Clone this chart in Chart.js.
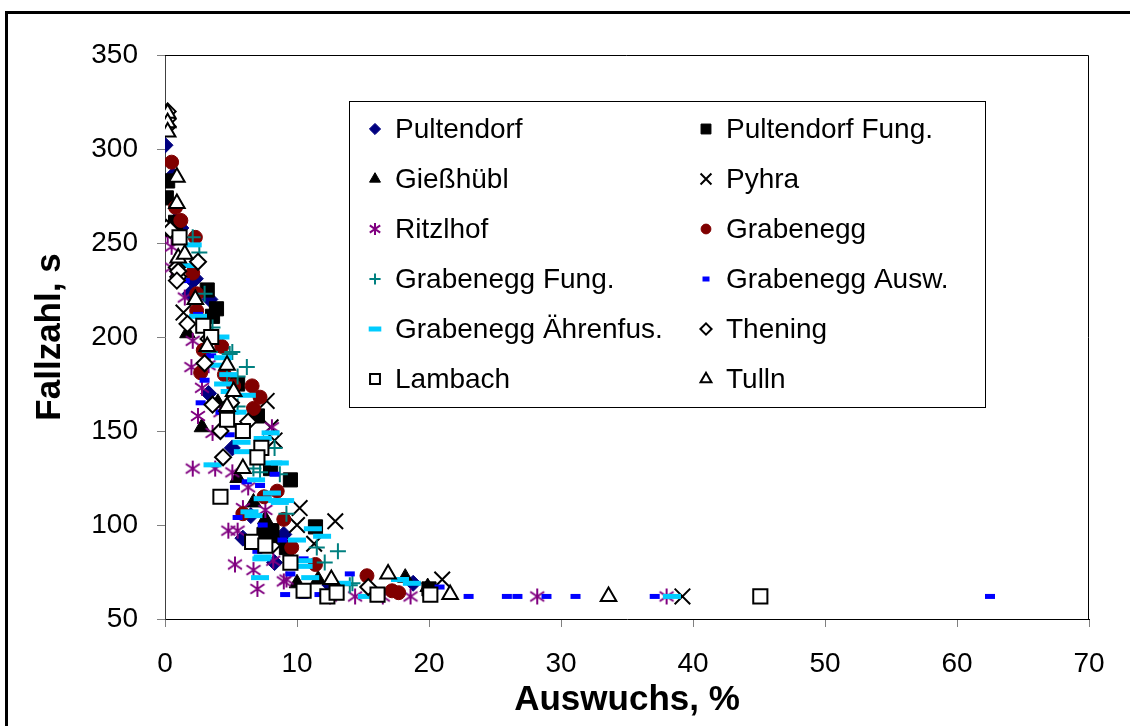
<!DOCTYPE html>
<html>
<head>
<meta charset="utf-8">
<script src="https://cdn.jsdelivr.net/npm/chart.js@4"></script>
<style>
  body { margin: 0; background: #fff; overflow: hidden; }
  #wrap { position: relative; width: 1130px; height: 726px; overflow: hidden; }
  #frame { position: absolute; left: 5px; top: 11px; width: 1200px; height: 800px;
           border: 3px solid #000; pointer-events: none; }
  canvas { position: absolute; left: 0; top: 0; }
</style>
</head>
<body>
<div id="wrap">
  <canvas id="fz" width="1130" height="726"></canvas>
  <div id="frame"></div>
</div>
<script>
// values: [Auswuchs %, Fallzahl s]
var pultendorf = [[0,302],[0.6,286],[0.8,262],[1.2,258],[1.9,223],[2.1,230],[2.3,231],[3.4,220],[3.3,170],[4.5,160],[5.1,141],[5.9,93],[6.5,105],[8.3,80],[9,95],[18.8,69],[12.5,68]];
var pultendorfFung = [[0.1,274],[0.2,283],[0.8,261],[3.2,225],[3.9,215],[3.6,211],[5.5,175],[7,158],[8,130],[9.5,124],[8.1,97],[9.2,88],[11.4,99],[7.5,95],[20,66]];
var giesshuebl = [[1.7,202],[2.8,152],[4,165],[6.7,112],[7.6,103],[7.6,97],[8.3,93],[10,69],[11.6,71],[18.2,72],[19.9,67],[5.5,125]];
var pyhra = [[1.4,213],[7.7,166],[8,152],[8.3,145],[10.2,109],[10,100],[12.9,102],[8.7,89],[11.3,90],[21,71],[39.2,62]];
var ritzlhof = [[0.2,254],[0.5,248],[0.5,237],[1.5,221],[2.1,198],[2,184],[2.8,173],[2.5,158],[3.6,149],[2.1,130],[3.8,130],[5.1,128],[6.3,120],[5.9,109],[4.8,97],[5.5,97],[5.3,79],[6.7,76],[7,66],[8.2,81],[9,70],[8.1,152],[7.6,108],[9.2,71],[12.5,62],[14.4,62],[16.5,62],[18.6,62],[28.2,62],[38,62],[3.3,185],[4.2,160]];
var grabenegg = [[0.5,293],[0.8,269],[1.2,262],[2.3,253],[2.1,234],[2.4,223],[2.4,214],[4.3,195],[2.9,193],[2.7,181],[5.2,174],[6.6,174],[7.2,168],[6.7,162],[8.5,118],[9,103],[9.6,88],[5.9,106],[11.4,79],[15.3,73],[17.2,65],[17.7,64],[4.5,180],[7.5,115]];
var grabeneggFung = [[2.1,253],[3,223],[3.6,205],[3.4,192],[5.1,192],[4.9,191],[6.2,184],[5.5,179],[5.5,163],[8.3,141],[6.7,130],[7.2,128],[8.7,127],[9.2,106],[11.5,88],[13.1,86],[12.1,80],[14.2,69],[14,68],[2.6,245],[4.7,180]];
var grabeneggAusw = [[0.8,255],[1.5,230],[2.5,212],[3,177],[2.7,165],[4.9,148],[5.3,120],[6.2,123],[8.3,127],[5.5,104],[7.4,100],[7.2,121],[7,86],[8.9,92],[9.5,74],[9.1,63],[10.5,82],[11.7,63],[10.5,62],[14,74],[20.8,67],[23,62],[25.9,62],[26.7,62],[28.9,62],[31.1,62],[37.1,62],[62.5,62],[13,63],[16,62],[3.5,190],[4.2,160]];
var grabeneggAehren = [[2.1,249],[1.7,238],[2.5,211],[4.2,200],[4.4,189],[3.9,185],[4.8,180],[4.4,175],[4.9,171],[6.2,169],[8,149],[7.4,146],[5.8,144],[5.9,139],[8.2,133],[8.7,133],[3.6,132],[7.4,114],[8.5,113],[6.7,105],[7.4,83],[7.2,72],[10.5,78],[11,72],[10,92],[8.1,117],[8.7,112],[6.4,107],[11.2,98],[11.9,94],[7.3,82],[10.5,81],[13.4,69],[15.3,62],[17.8,71],[18.7,69],[38.4,62],[9.1,113],[6.9,124],[5.5,160]];
var thening = [[0.2,320],[0.2,316],[0.2,312],[0.1,258],[0.4,257],[0.9,237],[1,232],[1,235],[0.9,230],[1.7,207],[3.3,199],[3,186],[3.6,164],[6.3,155],[4.2,150],[4.4,136],[15.4,67],[2.5,240],[5,165]];
var lambach = [[1.1,253],[2.9,206],[4.7,156],[5.9,150],[7.3,141],[7,136],[4.2,115],[6.6,91],[7.6,89],[9.5,80],[10.5,65],[12.3,62],[13,64],[16.1,63],[20.1,63],[45.1,62],[3.5,200]];
var tulln = [[0.2,319],[0.2,314],[0.2,309],[0.9,285],[0.9,271],[1,242],[1.5,244],[2.3,220],[4.7,185],[5.2,171],[4.7,163],[5.9,130],[12.6,71],[16.9,74],[21.6,63],[33.6,62],[3.2,195]];

var seriesNames = ['Pultendorf', 'Pultendorf Fung.', 'Gießhübl', 'Pyhra', 'Ritzlhof', 'Grabenegg',
    'Grabenegg Fung.', 'Grabenegg Ausw.', 'Grabenegg Ährenfus.', 'Thening', 'Lambach', 'Tulln'];
var seriesData = [pultendorf, pultendorfFung, giesshuebl, pyhra, ritzlhof, grabenegg,
    grabeneggFung, grabeneggAusw, grabeneggAehren, thening, lambach, tulln];
var xTicks = [0, 10, 20, 30, 40, 50, 60, 70];
var yTicks = [50, 100, 150, 200, 250, 300, 350];

var FONT = "Arial, 'Liberation Sans', sans-serif";

// asterisk marker (vertical bar + X) like the one Excel uses
function asterisk(size, color) {
    var c = document.createElement('canvas');
    c.width = size; c.height = size;
    var g = c.getContext('2d');
    g.strokeStyle = color;
    g.lineWidth = 2;
    var m = size / 2, r = size / 2 - 1;
    g.beginPath();
    g.moveTo(m, m - r); g.lineTo(m, m + r);
    g.moveTo(m - r * 0.87, m - r * 0.6); g.lineTo(m + r * 0.87, m + r * 0.6);
    g.moveTo(m - r * 0.87, m + r * 0.6); g.lineTo(m + r * 0.87, m - r * 0.6);
    g.stroke();
    return c;
}

var styles = [
    { pointStyle: 'rectRot', radius: 8, bg: '#000080', border: '#000080', bw: 1 },
    { pointStyle: 'rect', radius: 10, bg: '#000000', border: '#000000', bw: 1 },
    { pointStyle: 'triangle', radius: 9, bg: '#000000', border: '#000000', bw: 1 },
    { pointStyle: 'crossRot', radius: 11, bg: '#000000', border: '#000000', bw: 2 },
    { pointStyle: asterisk(18, '#800080'), legendStyle: asterisk(14, '#800080'), radius: 9, bg: '#800080', border: '#800080', bw: 2 },
    { pointStyle: 'circle', radius: 7, bg: '#800000', border: '#800000', bw: 1 },
    { pointStyle: 'cross', radius: 8, bg: '#008080', border: '#008080', bw: 2 },
    { pointStyle: 'line', radius: 5, bg: '#0000FF', border: '#0000FF', bw: 5 },
    { pointStyle: 'line', radius: 9, bg: '#00CCFF', border: '#00CCFF', bw: 5 },
    { pointStyle: 'rectRot', radius: 8, bg: '#FFFFFF', border: '#000000', bw: 2 },
    { pointStyle: 'rect', radius: 10, bg: '#FFFFFF', border: '#000000', bw: 2 },
    { pointStyle: 'triangle', radius: 9, bg: '#FFFFFF', border: '#000000', bw: 2 }
];

var datasets = seriesNames.map(function (name, i) {
    var s = styles[i];
    return {
        label: name,
        data: seriesData[i].map(function (p) { return { x: p[0], y: p[1] }; }),
        pointStyle: s.pointStyle,
        pointRadius: s.radius,
        pointBackgroundColor: s.bg,
        pointBorderColor: s.border,
        pointBorderWidth: s.bw,
        showLine: false,
        order: seriesNames.length - i  // later series on top, like Excel
    };
});

// plot frame (top and right edges)
var frame = {
    id: 'frame',
    afterDatasetsDraw: function (chart) {
        var a = chart.chartArea, ctx = chart.ctx;
        ctx.save();
        ctx.strokeStyle = '#000';
        ctx.lineWidth = 1;
        ctx.beginPath();
        ctx.moveTo(a.left, a.top + 0.5);
        ctx.lineTo(a.right - 0.5, a.top + 0.5);
        ctx.lineTo(a.right - 0.5, a.bottom);
        ctx.stroke();
        ctx.restore();
    }
};

// boxed two-column legend inside the plot
var boxLegend = {
    id: 'boxLegend',
    afterDraw: function (chart) {
        var ctx = chart.ctx;
        var bx = 349, by = 101, bw = 636, bh = 306;
        ctx.save();
        ctx.fillStyle = '#fff';
        ctx.fillRect(bx, by, bw, bh);
        ctx.strokeStyle = '#000';
        ctx.lineWidth = 1;
        ctx.strokeRect(bx + 0.5, by + 0.5, bw, bh);
        ctx.font = '28px ' + FONT;
        ctx.textBaseline = 'middle';
        for (var i = 0; i < seriesNames.length; i++) {
            var col = i % 2, row = Math.floor(i / 2);
            var mx = col ? 706 : 375;
            var my = 129 + row * 50;
            var s = styles[i];
            ctx.fillStyle = s.bg;
            ctx.strokeStyle = s.border;
            ctx.lineWidth = s.bw;
            Chart.helpers.drawPoint(ctx, {
                pointStyle: s.legendStyle || s.pointStyle,
                radius: s.radius * 0.7,
                rotation: 0,
                borderWidth: s.bw
            }, mx, my);
            ctx.fillStyle = '#000';
            ctx.fillText(seriesNames[i], mx + 20, my + 1);
        }
        ctx.restore();
    }
};

new Chart(document.getElementById('fz'), {
    type: 'scatter',
    data: { datasets: datasets },
    options: {
        responsive: false,
        animation: false,
        devicePixelRatio: 1,
        layout: { padding: { top: 55, right: 41, left: 0, bottom: 0 } },
        plugins: {
            legend: { display: false },
            tooltip: { enabled: false }
        },
        scales: {
            x: {
                type: 'linear',
                min: 0, max: 70,
                afterBuildTicks: function (s) { s.ticks = xTicks.map(function (v) { return { value: v }; }); },
                afterFit: function (s) { s.height = 107; },
                ticks: { font: { size: 28, family: FONT }, color: '#000', padding: 20, maxRotation: 0 },
                grid: { drawOnChartArea: false, drawTicks: true, tickLength: 8, color: '#808080' },
                border: { display: true, color: '#000', width: 1 },
                title: { display: true, text: 'Auswuchs, %', color: '#000',
                         font: { size: 35, weight: 'bold', family: FONT }, padding: { top: 0, bottom: 5 } }
            },
            y: {
                type: 'linear',
                min: 50, max: 350,
                afterBuildTicks: function (s) { s.ticks = yTicks.map(function (v) { return { value: v }; }); },
                afterFit: function (s) { s.width = 165; },
                ticks: { font: { size: 28, family: FONT }, color: '#000', padding: 19 },
                grid: { drawOnChartArea: false, drawTicks: true, tickLength: 8, color: '#808080' },
                border: { display: true, color: '#404040', width: 1 },
                title: { display: true, text: 'Fallzahl, s', color: '#000',
                         font: { size: 35, weight: 'bold', family: FONT }, padding: { top: 29, bottom: 0 } }
            }
        }
    },
    plugins: [frame, boxLegend]
});
</script>
</body>
</html>
